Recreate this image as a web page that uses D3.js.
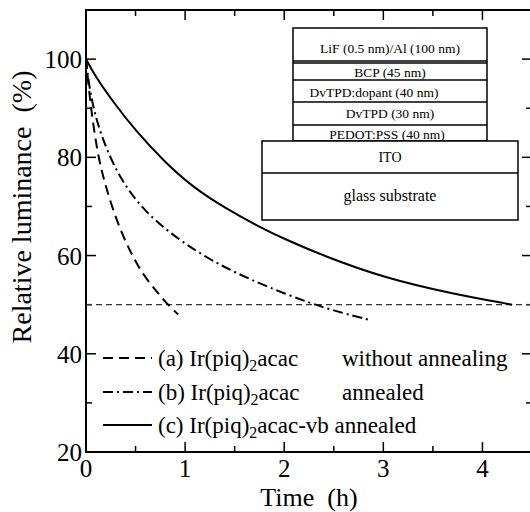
<!DOCTYPE html>
<html>
<head>
<meta charset="utf-8">
<script src="https://cdn.jsdelivr.net/npm/d3@7/dist/d3.min.js"></script>
<style>
  body { margin: 0; background: #fff; }
</style>
</head>
<body>
<div id="chart"></div>
<script>
// data
var timeA = [0, 0.04, 0.11, 0.19, 0.34, 0.54, 0.70, 0.81, 0.93];
var lumA  = [100, 91.5, 81.3, 74.5, 65.1, 57.0, 53.0, 50.3, 48.0];

var timeB = [0, 0.04, 0.14, 0.34, 0.61, 0.95, 1.25, 1.50, 1.82, 2.26, 2.55, 2.86];
var lumB  = [100, 92.9, 84.8, 75.5, 68.5, 63.0, 59.2, 56.6, 53.7, 50.3, 48.5, 46.9];

var timeC = [0, 0.10, 0.27, 0.50, 0.80, 1.08, 1.40, 1.75, 2.00, 2.40, 3.00, 3.70, 4.30];
var lumC  = [100, 96.3, 91.4, 85.4, 78.9, 73.9, 69.7, 65.8, 63.4, 59.9, 55.5, 52.2, 50.0];

var halfLife = 50;
var xTicks = [0, 1, 2, 3, 4];
var yTicks = [20, 40, 60, 80, 100];

var legendLabels = [
    { pre: "(a) Ir(piq)", sub: "2", post: "acac", note: "without annealing" },
    { pre: "(b) Ir(piq)", sub: "2", post: "acac", note: "annealed" },
    { pre: "(c) Ir(piq)", sub: "2", post: "acac-vb annealed", note: "" }
];
var dashes = ["10,6", "10,4,2,4", null];

// device structure (top stack then substrate)
var layers = ["LiF (0.5 nm)/Al (100 nm)", "BCP (45 nm)", "DvTPD:dopant (40 nm)", "DvTPD (30 nm)", "PEDOT:PSS (40 nm)"];
var substrate = ["ITO", "glass substrate"];

var svgWidth = 530;
var svgHeight = 512;

var margin = { top: 10, left: 86 };
var width = 446;
var height = 442;

var serif = "'Liberation Serif', 'Times New Roman', Times, serif";

var svg = d3.select("#chart")
    .append("svg")
    .attr("width", svgWidth)
    .attr("height", svgHeight)
    .attr("font-family", serif);

var chartGroup = svg.append("g")
    .attr("transform", `translate(${margin.left},${margin.top})`);

var x = d3.scaleLinear().domain([0, 4.5]).range([0, width]);
var y = d3.scaleLinear().domain([20, 110]).range([height, 0]);

//ticks on all four sides, pointing in
var xMinor = d3.range(0, 4.51, 0.5);
var yMinor = d3.range(20, 110, 10);

function isMajorX(d) { return Math.abs(d - Math.round(d)) < 1e-6; }
function isMajorY(d) { return d % 20 === 0; }

var ticksG = chartGroup.append("g").attr("class", "ticks");

xMinor.forEach(function (d) {
    var len = isMajorX(d) ? 10 : 6;
    ticksG.append("line").attr("x1", x(d)).attr("x2", x(d)).attr("y1", height).attr("y2", height - len);
    ticksG.append("line").attr("x1", x(d)).attr("x2", x(d)).attr("y1", 0).attr("y2", len);
});
yMinor.forEach(function (d) {
    var len = isMajorY(d) ? 10 : 6;
    ticksG.append("line").attr("x1", 0).attr("x2", len).attr("y1", y(d)).attr("y2", y(d));
    ticksG.append("line").attr("x1", width).attr("x2", width - len).attr("y1", y(d)).attr("y2", y(d));
});
ticksG.selectAll("line").attr("stroke", "#000").attr("stroke-width", 1.5);

// frame
chartGroup.append("rect")
    .attr("width", width)
    .attr("height", height)
    .attr("fill", "none")
    .attr("stroke", "#000")
    .attr("stroke-width", 2);

// tick labels
chartGroup.append("g").selectAll("text")
    .data(xTicks)
    .enter()
    .append("text")
    .attr("x", d => x(d))
    .attr("y", height + 25)
    .style("text-anchor", "middle")
    .style("font-size", "25px")
    .text(d => d);

chartGroup.append("g").selectAll("text")
    .data(yTicks)
    .enter()
    .append("text")
    .attr("x", -4)
    .attr("y", d => y(d) + 9)
    .style("text-anchor", "end")
    .style("font-size", "25px")
    .text(d => d);

// 50% line
chartGroup.append("line")
    .attr("x1", 0).attr("x2", width)
    .attr("y1", y(halfLife)).attr("y2", y(halfLife))
    .attr("stroke", "#333")
    .attr("stroke-width", 1.2)
    .attr("stroke-dasharray", "6,4");

// curves
var line = d3.line()
    .x(d => x(d[0]))
    .y(d => y(d[1]))
    .curve(d3.curveBasis);

var series = [
    d3.zip(timeA, lumA),
    d3.zip(timeB, lumB),
    d3.zip(timeC, lumC)
];

series.forEach(function (s, i) {
    chartGroup.append("path")
        .datum(s)
        .attr("d", line)
        .attr("fill", "none")
        .attr("stroke", "#000")
        .attr("stroke-width", 2)
        .attr("stroke-dasharray", dashes[i]);
});

// legend
var legendRows = [358, 392, 425];
legendLabels.forEach(function (lab, i) {
    var ly = legendRows[i];
    svg.append("line")
        .attr("x1", 103).attr("x2", 152)
        .attr("y1", ly).attr("y2", ly)
        .attr("stroke", "#000")
        .attr("stroke-width", 2)
        .attr("stroke-dasharray", dashes[i]);
    var t = svg.append("text")
        .attr("x", 158)
        .attr("y", ly + 8)
        .style("font-size", "23px");
    t.append("tspan").text(lab.pre);
    t.append("tspan").attr("dy", 5).style("font-size", "16px").text(lab.sub);
    t.append("tspan").attr("dy", -5).text(lab.post);
    if (lab.note) {
        svg.append("text")
            .attr("x", 342)
            .attr("y", ly + 8)
            .style("font-size", "23px")
            .text(lab.note);
    }
});

// inset: device structure
var stackEdges = [28, 61, 80, 102, 125, 141];
var inset = svg.append("g");
inset.append("rect")
    .attr("x", 293).attr("y", 28)
    .attr("width", 194).attr("height", 113)
    .attr("fill", "#fff").attr("stroke", "#000").attr("stroke-width", 1.5);
stackEdges.slice(1, 5).forEach(function (e) {
    inset.append("line")
        .attr("x1", 293).attr("x2", 487)
        .attr("y1", e).attr("y2", e)
        .attr("stroke", "#000").attr("stroke-width", 1.5);
});
inset.append("line")
    .attr("x1", 293).attr("x2", 487)
    .attr("y1", 63).attr("y2", 63)
    .attr("stroke", "#000").attr("stroke-width", 1.5);

var layerX = [390, 390, 374, 390, 387];
var layerY = [48, 72, 92, 113, 134];
layers.forEach(function (l, i) {
    inset.append("text")
        .attr("x", layerX[i])
        .attr("y", layerY[i] + 4.5)
        .style("text-anchor", "middle")
        .style("font-size", "13.5px")
        .text(l);
});

inset.append("rect")
    .attr("x", 262).attr("y", 141)
    .attr("width", 256).attr("height", 79)
    .attr("fill", "#fff").attr("stroke", "#000").attr("stroke-width", 1.5);
inset.append("line")
    .attr("x1", 262).attr("x2", 518)
    .attr("y1", 173).attr("y2", 173)
    .attr("stroke", "#000").attr("stroke-width", 1.5);
inset.append("text")
    .attr("x", 390).attr("y", 162)
    .style("text-anchor", "middle").style("font-size", "14px")
    .text(substrate[0]);
inset.append("text")
    .attr("x", 390).attr("y", 201)
    .style("text-anchor", "middle").style("font-size", "16px")
    .text(substrate[1]);

// axis titles
svg.append("text")
    .attr("transform", "translate(31, 207) rotate(-90)")
    .style("text-anchor", "middle")
    .style("font-size", "28px")
    .text("Relative luminance\u00a0\u00a0(%)");

svg.append("text")
    .attr("x", 309)
    .attr("y", 506)
    .style("text-anchor", "middle")
    .style("font-size", "26px")
    .text("Time\u00a0\u00a0(h)");
</script>
</body>
</html>
